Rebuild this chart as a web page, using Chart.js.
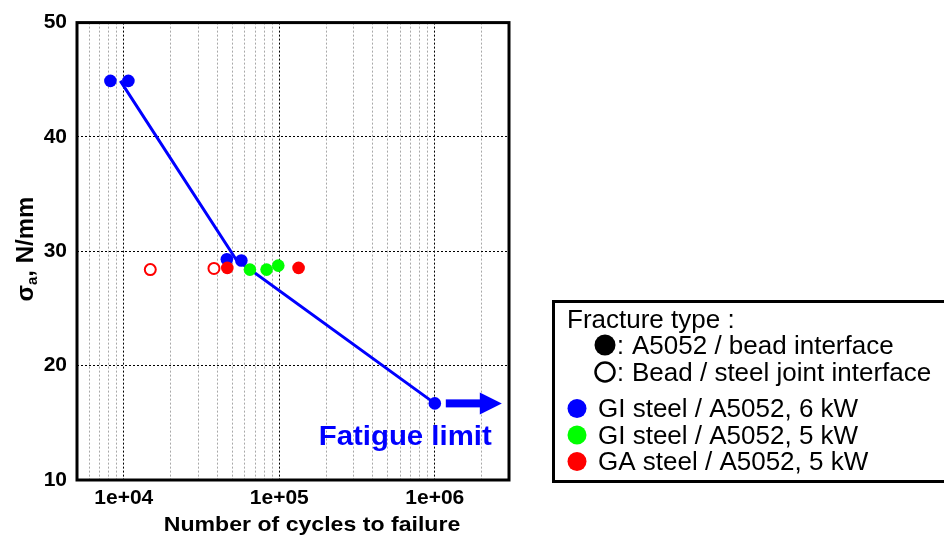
<!DOCTYPE html>
<html><head><meta charset="utf-8">
<script src="https://cdn.jsdelivr.net/npm/chart.js@4.4.1/dist/chart.umd.min.js"></script>
<style>html,body{margin:0;padding:0;background:#fff;}#wrap{position:relative;width:944px;height:535px;}</style>
</head><body><div id="wrap"><canvas id="c" width="944" height="535"></canvas></div>
<script>
// ---- data (cycles to failure N, stress amplitude sigma_a) ----
const giSteel6kW_N = [8200, 10700, 46000, 57000, 1000000];
const giSteel6kW_S = [44.9, 44.9, 29.3, 29.2, 16.7];
const giSteel5kW_N = [64700, 82800, 98500];
const giSteel5kW_S = [28.4, 28.4, 28.75];
const gaSteel5kWFilled_N = [46300, 133000];
const gaSteel5kWFilled_S = [28.55, 28.55];
const gaSteel5kWOpen_N = [14800, 38000];
const gaSteel5kWOpen_S = [28.4, 28.5];
const snCurve_N = [9500, 52600, 1000000];
const snCurve_S = [44.9, 29.3, 16.7];
const fatigueLimitN = 1000000;
const fatigueLimitS = 16.7;

const xMajorTicks = [10000, 100000, 1000000];
const xTickLabels = ['1e+04', '1e+05', '1e+06'];
const xGridValues = [5000, 6000, 7000, 8000, 9000,
  10000, 20000, 30000, 40000, 50000, 60000, 70000, 80000, 90000,
  100000, 200000, 300000, 400000, 500000, 600000, 700000, 800000, 900000,
  1000000, 2000000, 3000000];
const yTicks = [10, 20, 30, 40, 50];

const legendTitle = 'Fracture type :';
const fractureTypes = ['A5052 / bead interface', 'Bead / steel joint interface'];
const seriesNames = ['GI steel / A5052, 6 kW', 'GI steel / A5052, 5 kW', 'GA steel / A5052, 5 kW'];
const seriesColors = ['#0000ff', '#00ff00', '#ff0000'];
const xTitle = 'Number of cycles to failure';
const annotationText = 'Fatigue limit';

const pts = (xs, ys) => xs.map((x, i) => ({x: x, y: ys[i]}));

function txt(ctx, s, x, y, font, color, sx, align) {
  ctx.save();
  ctx.font = font; ctx.fillStyle = color; ctx.textBaseline = 'alphabetic';
  ctx.translate(x, y); ctx.scale(sx || 1, 1);
  ctx.textAlign = align || 'left';
  ctx.fillText(s, 0, 0);
  ctx.restore();
}

const decor = {
  id: 'decor',
  afterDraw(chart) {
    const ctx = chart.ctx, a = chart.chartArea;
    const xs = chart.scales.x, ys = chart.scales.y;
    // plot frame
    ctx.save();
    ctx.lineWidth = 3; ctx.strokeStyle = '#000';
    ctx.strokeRect(a.left, a.top, a.right - a.left, a.bottom - a.top);
    ctx.restore();

    // x title
    txt(ctx, xTitle, 312, 531, 'bold 21px "Liberation Sans", Arial, sans-serif', '#000', 1.1, 'center');

    // y title with subscript
    ctx.save();
    ctx.translate(33, 249);
    ctx.rotate(-Math.PI / 2);
    ctx.fillStyle = '#000';
    ctx.textBaseline = 'alphabetic';
    const f1 = 'bold 24px "Liberation Sans", Arial, sans-serif';
    const f2 = 'bold 15px "Liberation Sans", Arial, sans-serif';
    ctx.font = f1; const w1 = ctx.measureText('σ').width; const w3 = ctx.measureText(', N/mm').width;
    ctx.font = f2; const w2 = ctx.measureText('a').width;
    let x0 = -(w1 + w2 + w3) / 2;
    ctx.font = f1; ctx.fillText('σ', x0, 0); x0 += w1;
    ctx.font = f2; ctx.fillText('a', x0, 4); x0 += w2;
    ctx.font = f1; ctx.fillText(', N/mm', x0, 0);
    ctx.restore();

    // fatigue limit arrow + label
    const px = xs.getPixelForValue(fatigueLimitN), py = ys.getPixelForValue(fatigueLimitS);
    ctx.save();
    ctx.fillStyle = '#0000ff';
    ctx.fillRect(px + 11, py - 4, 36, 8);
    ctx.beginPath();
    ctx.moveTo(px + 45, py - 11); ctx.lineTo(px + 67, py); ctx.lineTo(px + 45, py + 11); ctx.closePath();
    ctx.fill();
    ctx.restore();
    txt(ctx, annotationText, px + 57, py + 42, 'bold 28px "Liberation Sans", Arial, sans-serif', '#0000ff', 1.05, 'right');

    // legend box
    ctx.save();
    ctx.lineWidth = 3; ctx.strokeStyle = '#000';
    ctx.strokeRect(553.5, 301.5, 400, 180);
    ctx.restore();
    const lf = '25px "Liberation Sans", Arial, sans-serif';
    txt(ctx, legendTitle, 567, 328, lf, '#000', 1.04);
    ctx.save();
    ctx.fillStyle = '#000';
    ctx.beginPath(); ctx.arc(605, 345, 10.5, 0, Math.PI * 2); ctx.fill();
    ctx.strokeStyle = '#000'; ctx.lineWidth = 2.5;
    ctx.beginPath(); ctx.arc(605, 372, 9.5, 0, Math.PI * 2); ctx.stroke();
    ctx.restore();
    txt(ctx, ':', 617, 354, lf, '#000', 1);
    txt(ctx, fractureTypes[0], 632, 354, lf, '#000', 1.04);
    txt(ctx, ':', 617, 381, lf, '#000', 1);
    txt(ctx, fractureTypes[1], 632, 381, lf, '#000', 1.04);
    const ly = [408.5, 435, 461.5];
    for (let i = 0; i < 3; i++) {
      ctx.save();
      ctx.fillStyle = seriesColors[i];
      ctx.beginPath(); ctx.arc(577, ly[i], 9.5, 0, Math.PI * 2); ctx.fill();
      ctx.restore();
      txt(ctx, seriesNames[i], 598, ly[i] + 8.5, lf, '#000', 1.04);
    }
  }
};

const tickFont = {family: '"Liberation Sans", Arial, sans-serif', size: 21, weight: 'bold'};

new Chart(document.getElementById('c'), {
  type: 'scatter',
  data: {
    datasets: [
      {label: seriesNames[2], data: pts(gaSteel5kWFilled_N, gaSteel5kWFilled_S),
       backgroundColor: seriesColors[2], borderColor: seriesColors[2], borderWidth: 0, pointRadius: 6.3},
      {label: seriesNames[2] + ' (open)', data: pts(gaSteel5kWOpen_N, gaSteel5kWOpen_S),
       backgroundColor: '#ffffff', borderColor: seriesColors[2], borderWidth: 2, pointRadius: 5.5},
      {label: seriesNames[1], data: pts(giSteel5kW_N, giSteel5kW_S),
       backgroundColor: seriesColors[1], borderColor: seriesColors[1], borderWidth: 0, pointRadius: 6.3},
      {label: seriesNames[0], data: pts(giSteel6kW_N, giSteel6kW_S),
       backgroundColor: seriesColors[0], borderColor: seriesColors[0], borderWidth: 0, pointRadius: 6.3},
      {label: 'S-N curve', data: pts(snCurve_N, snCurve_S), showLine: true,
       borderColor: '#0000ff', borderWidth: 3, pointRadius: 0, fill: false, tension: 0}
    ]
  },
  options: {
    responsive: false, animation: false, devicePixelRatio: 1,
    layout: {padding: {left: 0, right: 435, top: 20, bottom: 0}},
    plugins: {legend: {display: false}, tooltip: {enabled: false}},
    scales: {
      x: {
        type: 'logarithmic', min: 5000, max: 3000000,
        afterBuildTicks: s => { s.ticks = xGridValues.map(v => ({value: v})); },
        afterFit: s => { s.height = 55; },
        ticks: {
          autoSkip: false, maxRotation: 0, minRotation: 0, padding: 6, color: '#000', font: tickFont,
          callback: v => { const i = xMajorTicks.indexOf(v); return i >= 0 ? xTickLabels[i] : ''; }
        },
        grid: {
          drawTicks: false, lineWidth: 1,
          color: c => (c.tick && xMajorTicks.indexOf(c.tick.value) >= 0) ? '#000' : '#a8a8a8'
        },
        border: {display: false, dash: [2, 2]}
      },
      y: {
        type: 'linear', min: 10, max: 50,
        afterBuildTicks: s => { s.ticks = yTicks.map(v => ({value: v})); },
        afterFit: s => { s.width = 77; },
        ticks: {padding: 10, color: '#000', font: tickFont},
        grid: {drawTicks: false, lineWidth: 1, color: '#000'},
        border: {display: false, dash: [2, 2]}
      }
    }
  },
  plugins: [decor]
});
</script></body></html>
